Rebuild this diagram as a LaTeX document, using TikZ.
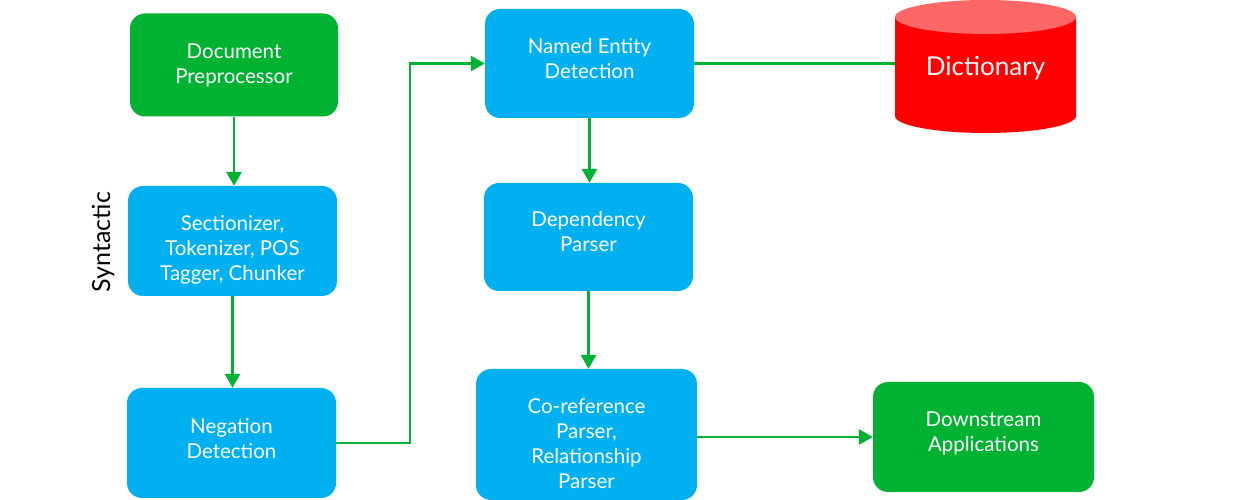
\documentclass[tikz,border=0pt]{standalone}
\usepackage{fontspec}
\setmainfont{Lato}
\usetikzlibrary{arrows.meta,positioning}
\definecolor{boxblue}{HTML}{00B0F0}
\definecolor{boxgreen}{HTML}{00B232}
\definecolor{dictred}{HTML}{FF0000}
\definecolor{dicttop}{HTML}{FF6666}
\tikzset{
  procbox/.style={rectangle, rounded corners=15pt, fill=boxblue, inner sep=0pt},
  endbox/.style={procbox, fill=boxgreen},
  ptext/.style={text=white, align=center, font=\fontsize{20.5}{25}\selectfont, inner sep=0pt},
  flow/.style={draw=boxgreen, line width=2.8pt, -{Triangle[length=14pt,width=15pt]}},
  link/.style={draw=boxgreen, line width=2.8pt},
}
\begin{document}
\begin{tikzpicture}[x=1pt,y=1pt]
\useasboundingbox (0,0) rectangle (1234,500);
\node[endbox, minimum width=208pt, minimum height=103pt] (doc) at (234,435) {};
\node[ptext] (docT) at (doc.center) {Document\\Preprocessor};
\node[procbox, minimum width=209pt, minimum height=110pt] (sec) at (232.5,259) {};
\node[ptext] (secT) at ([yshift=-9pt]sec.center) {Sectionizer,\\Tokenizer, POS\\Tagger, Chunker};
\node[procbox, minimum width=209pt, minimum height=110pt] (neg) at (231.5,57) {};
\node[ptext] (negT) at ([yshift=4pt]neg.center) {Negation\\Detection};
\node[procbox, minimum width=209pt, minimum height=109pt] (ner) at (589.5,436.5) {};
\node[ptext] (nerT) at ([yshift=5pt]ner.center) {Named Entity\\Detection};
\node[procbox, minimum width=209pt, minimum height=108pt] (dep) at (588.5,263) {};
\node[ptext] (depT) at ([yshift=5pt]dep.center) {Dependency\\Parser};
\node[procbox, minimum width=221pt, minimum height=131pt] (coref) at (586.5,65.5) {};
\node[ptext] (corefT) at ([yshift=-9pt]coref.center) {Co-reference\\Parser,\\Relationship\\Parser};
\node[endbox, minimum width=221pt, minimum height=110pt] (down) at (983.5,63) {};
\node[ptext] (downT) at ([yshift=4pt]down.center) {Downstream\\Applications};
% Dictionary cylinder
\fill[dictred] (895,483) -- (895,384) arc[start angle=180, end angle=360, x radius=90.5pt, y radius=17pt] -- (1076,483) -- cycle;
\fill[dicttop] (985.5,483) ellipse[x radius=90.5pt, y radius=17pt];
\node[rectangle, minimum width=181pt, minimum height=80pt, text=white, font=\fontsize{26}{30}\selectfont, inner sep=0pt] (dict) at (985.5,432) {Dictionary};
\node[rotate=90, font=\fontsize{25}{30}\selectfont, inner sep=0pt] (synt) at (103,258) {Syntactic};
% connectors
\draw[flow] (doc.south) -- (doc.south |- sec.north);
\draw[flow] (sec.south) -- (sec.south |- neg.north);
\draw[flow] (neg.east) -- (410,57) |- (ner.west);
\draw[flow] (ner.south) -- (ner.south |- dep.north);
\draw[flow] (dep.south) -- (dep.south |- coref.north);
\draw[flow] (coref.east |- down.west) -- (down.west);
\draw[link] (ner.east) -- (ner.east -| dict.west);
\end{tikzpicture}
\end{document}
